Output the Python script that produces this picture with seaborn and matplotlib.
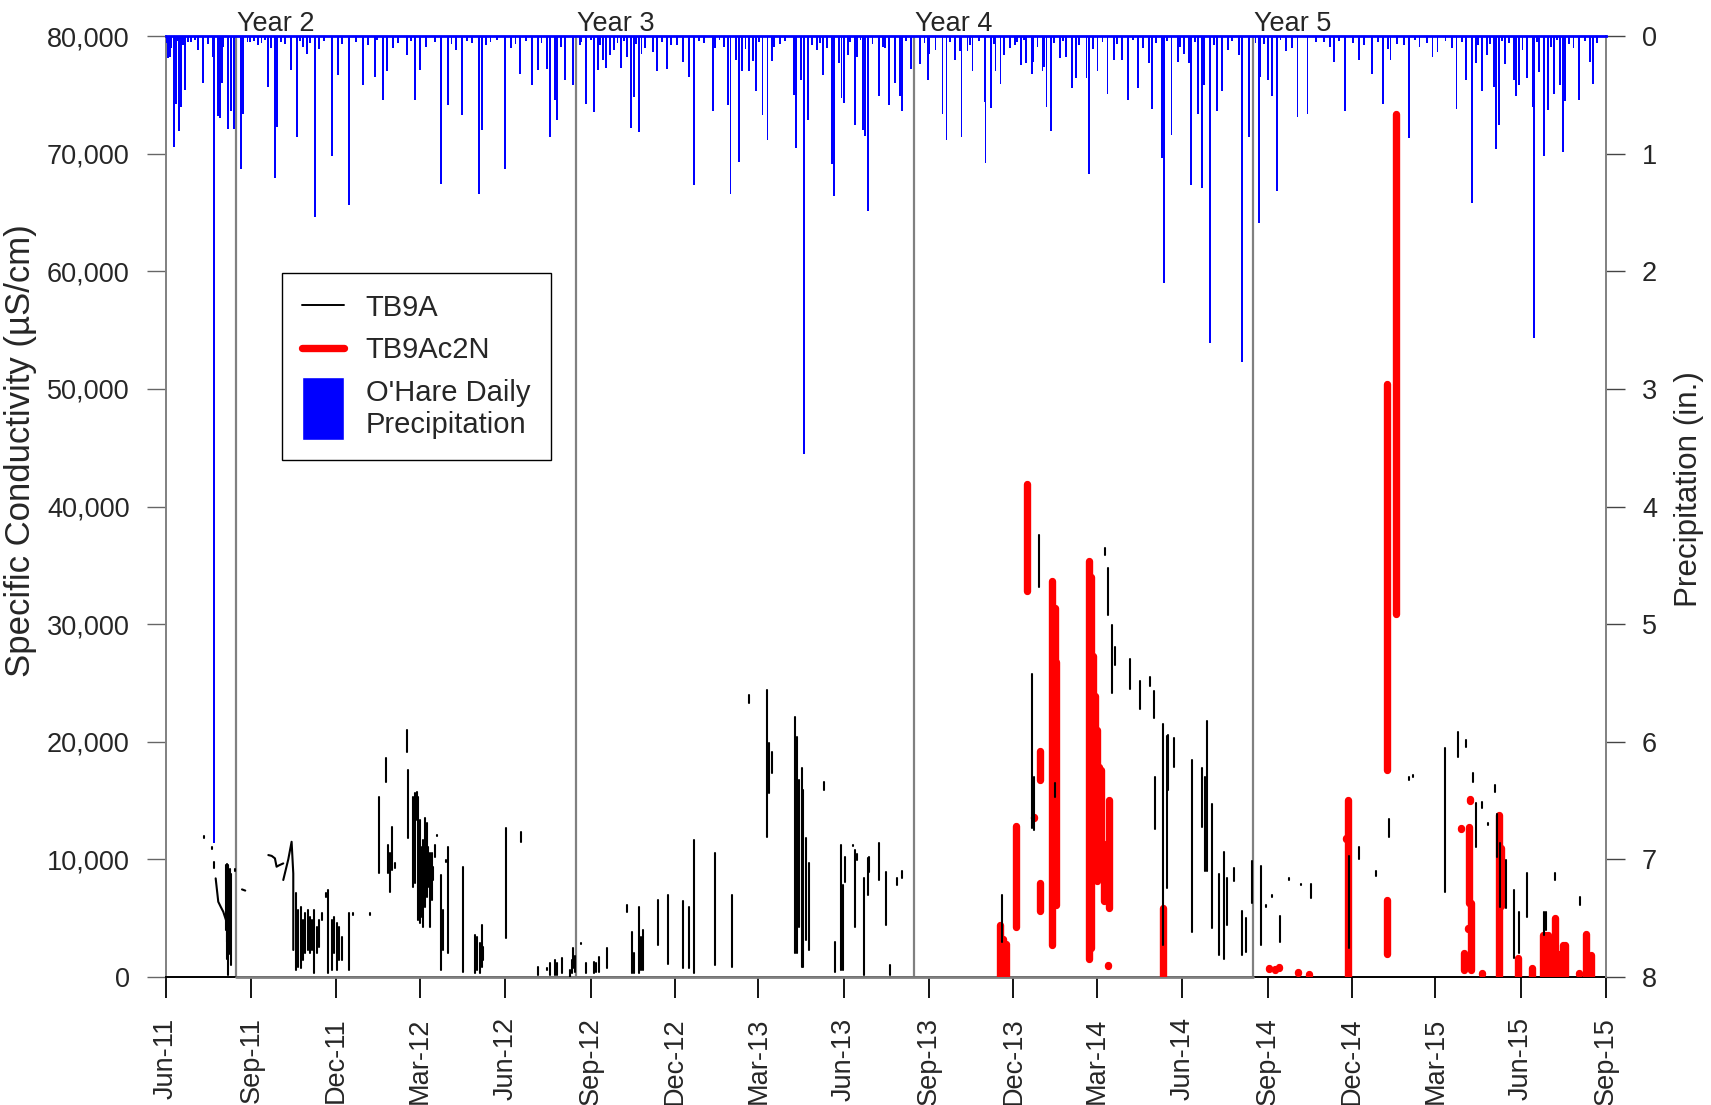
"""Specific conductivity at TB9A / TB9Ac2N with O'Hare daily precipitation."""

import matplotlib
matplotlib.use("Agg")
import matplotlib.pyplot as plt
import matplotlib.dates as mdates
import matplotlib.patches as mpatches
from matplotlib.lines import Line2D
from matplotlib.legend_handler import HandlerPatch
from matplotlib.ticker import FuncFormatter
import numpy as np
import pandas as pd
import seaborn as sns

sns.set_style("ticks")
plt.rcParams["font.family"] = ["Liberation Sans", "DejaVu Sans"]

START = pd.Timestamp("2011-06-01")   # all day offsets below count from here

# O'Hare daily precipitation (in.), days since 1 Jun 2011
precip_day = [2.5, 4.3, 8.6, 10.4, 14.4, 15.8, 20.5, 27, 40.3, 51, 52.1, 56.4, 58.2, 60,
              67.2, 69.7, 73.3, 80.9, 83.4, 90.6, 109.6, 117.5, 119.3, 134.4, 140.9, 151.7,
              160.7, 178.7, 185.8, 197, 212.8, 225.4, 233.7, 238, 259.5, 268.9, 273.9,
              296.6, 303.8, 319.6, 337.9, 340.4, 365.6, 381.8, 394.7, 400.8, 410.5, 414.1,
              419.5, 421.3, 430.3, 439.3, 446.5, 452.6, 461.5, 465.5, 470.9, 474.5, 478.8,
              490.7, 496.8, 501.4, 504.7, 510, 512.9, 524.8, 529.8, 540.6, 550.7, 557.9,
              564, 569.1, 589.8, 592.1, 606.4, 608.9, 614.7, 618, 620.8, 628.7, 632.7,
              636.2, 643.4, 648.8, 653.5, 656, 677.2, 679.8, 684.8, 687.7, 692.7, 701.7,
              708.9, 718.6, 720.7, 725.8, 728.6, 730.8, 735.8, 743, 745.6, 751.3, 753.8,
              756.7, 768.9, 775.4, 779.7, 786.5, 791.6, 793.7, 803.4, 813.1, 821.4, 823.2,
              837.5, 841.8, 850.8, 856.2, 858, 864.5, 869.9, 883.2, 883.9, 889.7, 894.7,
              900.1, 903.7, 915.6, 921.7, 927.4, 933.6, 935.3, 945.4, 947.2, 949.7, 954.3,
              964, 970.5, 976.7, 981, 992.8, 995.7, 1004.7, 1015.5, 1022.7, 1031, 1037.8,
              1047.9, 1060.1, 1063, 1073.8, 1076.3, 1084.4, 1091.6, 1098.2, 1103.6, 1105.4,
              1113.3, 1116.9, 1119.4, 1125.9, 1133.1, 1138.5, 1157.5, 1160.8, 1168, 1178.4,
              1179.8, 1188.1, 1192.4, 1197.8, 1207.9, 1220.4, 1231.2, 1249.2, 1260, 1271.8,
              1286.6, 1301, 1312.8, 1320.7, 1340.9, 1335.1, 1366, 1371.4, 1391.9, 1402,
              1408.8, 1412.8, 1418.9, 1424.3, 1432.6, 1434.8, 1437.6, 1444.1, 1454.2, 1456,
              1459.6, 1468.2, 1474, 1475.8, 1481.2, 1485.8, 1490.1, 1497, 1503.4, 1507,
              1508.8, 1523.9, 1535.8, 1539.4]
precip_in = [0.19, 0.18, 0.94, 0.58, 0.81, 0.60, 0.46, 0.05, 0.40, 0.18, 6.86, 0.68, 0.70, 0.40,
             0.79, 0.64, 0.79, 1.13, 0.66, 0.05, 0.43, 1.21, 0.77, 0.29, 0.86, 0.15,
             1.54, 1.02, 0.33, 1.44, 0.42, 0.35, 0.54, 0.30, 0.16, 0.54, 0.29,
             1.26, 0.59, 0.67, 1.34, 0.80, 1.13, 0.32, 0.42, 0.29, 0.28, 0.86,
             0.54, 0.71, 0.37, 0.42, 0.08, 0.58, 0.65, 0.29, 0.20, 0.27, 0.16,
             0.27, 0.18, 0.78, 0.52, 0.82, 0.15, 0.14, 0.30, 0.28, 0.08, 0.22,
             0.35, 1.27, 0.64, 0.10, 0.59, 1.34, 0.20, 1.07, 0.30, 0.30, 0.21,
             0.47, 0.67, 0.88, 0.21, 0.09, 0.50, 0.95, 0.37, 3.55, 0.71, 0.12,
             0.33, 1.09, 1.36, 0.23, 0.53, 0.57, 0.16, 0.76, 0.18, 0.80, 0.85,
             1.49, 0.51, 0.10, 0.59, 0.40, 0.51, 0.64, 0.28, 0.24, 0.37, 0.15,
             0.66, 0.88, 0.20, 0.13, 0.86, 0.13, 0.30, 0.56, 1.08, 0.61, 0.30,
             0.41, 0.16, 0.08, 0.25, 0.23, 0.32, 0.22, 0.30, 0.26, 0.60, 0.81,
             0.19, 0.18, 0.44, 0.36, 0.36, 1.17, 0.30, 0.49, 0.20, 0.20, 0.54,
             0.44, 0.23, 0.62, 1.04, 2.10, 0.84, 0.22, 0.15, 0.23, 1.27,
             0.66, 1.29, 0.42, 2.61, 0.64, 0.47, 0.16, 2.77, 0.86, 1.59,
             0.35, 0.37, 0.51, 1.32, 0.13, 0.69, 0.66, 0.05, 0.22, 0.64,
             0.20, 0.32, 0.58, 0.20, 0.87, 0.08, 0.18, 0.14, 0.62, 0.37,
             1.42, 0.23, 0.47, 0.16, 0.43, 0.96, 0.76, 0.24, 0.37, 0.51,
             0.42, 0.36, 0.60, 2.57, 0.31, 1.02, 0.63, 0.49, 0.42, 0.99,
             0.55, 0.54, 0.22, 0.41]

# light rain days (the fringe along the top)
drizzle_day = [1, 6, 12, 18, 24, 31, 35, 45, 62, 88, 95, 99, 103, 107, 113, 124, 128, 145,
               148, 155, 165, 170, 190, 205, 218, 228, 245, 250, 264, 280, 290, 308, 313,
               325, 330, 345, 350, 357, 372, 377, 388, 405, 426, 448, 458, 468, 483, 487,
               494, 507, 517, 535, 545, 575, 580, 597, 602, 625, 640, 662, 668, 697, 705,
               713, 738, 749, 762, 773, 798, 818, 830, 846, 867, 877, 893, 910, 918, 925,
               940, 958, 967, 985, 1000, 1010, 1026, 1043, 1054, 1068, 1080, 1094, 1110,
               1130, 1145, 1150, 1175, 1184, 1202, 1214, 1240, 1255, 1265, 1280, 1292,
               1307, 1318, 1328, 1347, 1352, 1360, 1380, 1387, 1398, 1415, 1428, 1441,
               1448, 1463, 1479, 1494, 1500, 1513, 1518, 1530, 1543]
drizzle_in = [0.06, 0.10, 0.04, 0.08, 0.05, 0.03, 0.12, 0.07, 0.09, 0.05, 0.04, 0.08, 0.06,
              0.03, 0.10, 0.05, 0.07, 0.04, 0.09, 0.06, 0.11, 0.04, 0.07, 0.05, 0.08, 0.03,
              0.10, 0.06, 0.04, 0.09, 0.05, 0.07, 0.12, 0.04, 0.06, 0.08, 0.05, 0.03, 0.10,
              0.07, 0.04, 0.06, 0.09, 0.05, 0.03, 0.08, 0.12, 0.06, 0.04, 0.07, 0.10, 0.05,
              0.08, 0.04, 0.06, 0.03, 0.09, 0.11, 0.05, 0.07, 0.04, 0.08, 0.06, 0.10, 0.05,
              0.03, 0.07, 0.09, 0.04, 0.06, 0.12, 0.05, 0.08, 0.04, 0.07, 0.10, 0.05, 0.03,
              0.09, 0.06, 0.04, 0.08, 0.11, 0.05, 0.07, 0.03, 0.10, 0.06, 0.04, 0.09, 0.05,
              0.08, 0.12, 0.04, 0.06, 0.07, 0.03, 0.10, 0.05, 0.09, 0.04, 0.06, 0.08, 0.05,
              0.11, 0.07, 0.03, 0.09, 0.06, 0.04, 0.10, 0.05, 0.08, 0.07, 0.04, 0.06, 0.12,
              0.05, 0.09, 0.03, 0.07, 0.10, 0.04, 0.06]

# TB9A daily range (uS/cm): day, daily high, daily low
tb9a_day = [41, 50, 52.1, 64.7, 65.4, 66, 66.7, 67.3, 68.5, 69.2, 69.8, 74.4,
            140.2, 142.7, 145.2, 147.4, 149.9, 152.8, 155.3, 157.8, 160, 162.5, 165,
            167.9, 172.5, 175.1, 178.6, 181.2, 184, 186.6, 189.4, 197.3, 202, 220,
            230.1, 237.2, 239.1, 241.6, 244.1, 247, 259.5, 260.6,
            266.7, 268.5, 270.3, 272.1, 273.9, 275.7, 277.5, 279.3, 281.1, 282.9, 284.7,
            286.5, 288.3, 290.1, 291.9, 296.6, 298.4, 301.6, 303.8, 319.9,
            333.3, 335.1, 338.7, 340.5, 342.3, 366.3, 382.5,
            401.5, 410.5, 414.1, 419.5, 422, 426.7, 435.6, 437.5, 439.3, 441.1,
            447.2, 452.9, 461.5, 463.7, 466.9, 475.2, 497.5, 502.2, 505.1, 510.1, 512.3,
            514.1, 530.6, 541.4, 557.9, 564.1, 569.5, 592.1, 610.1, 629.1, 648.5,
            650.6, 653.1, 678.3, 680.1, 682.6, 685.5, 687.3, 689.8, 693.8, 710, 721.5,
            727.6, 730.5, 732.7, 741.3, 743.5, 745.6, 752.8, 756.8, 758.6, 769.4, 776.5,
            780.9, 788.1, 793.8,
            901.3, 934, 936, 941.2, 958.9, 1013.2, 1015.7, 1020.1, 1023.7, 1039.3,
            1050.1, 1061.8, 1065.4, 1066.5, 1075.6, 1079.2, 1081, 1087.6, 1106.4,
            1117.3, 1120.9, 1122.7, 1128.2, 1135.4, 1140.9, 1144.5, 1151.8, 1160.8,
            1164.5, 1171, 1180.8, 1186.3, 1192.8, 1201.5, 1211.7, 1224.4, 1235.3,
            1276.4, 1286.9, 1305.4, 1319.5, 1340.5, 1345.3, 1379.3, 1393.7, 1401.9,
            1409.1, 1412.7, 1419.6, 1425.3, 1433.2, 1435, 1438.6, 1444.7, 1454, 1459.1,
            1468.1, 1486, 1488.8, 1497.9, 1524.9]
tb9a_hi = [12000, 11050, 9800, 9500, 9600, 9300, 9500, 9400, 9000, 9200, 8800, 9150,
           7110, 5700, 5980, 4850, 5420, 5700, 5130, 4850, 5700, 4280, 4850,
           5420, 7110, 7400, 4850, 5130, 4570, 4280, 3430, 5420, 5450, 5450,
           15330, 18590, 11220, 10510, 12780, 9700, 21000, 17600,
           15330, 15620, 15760, 15330, 13350, 11080, 11650, 13490, 13070, 11080, 10510,
           10510, 9380, 11220, 12100, 8680, 5700, 9950, 11080, 9380,
           3570, 3430, 2870, 4420, 2580, 12640, 12350,
           880, 780, 1160, 1450, 1160, 1590, 600, 1450, 2500, 1800,
           2900, 1170, 1300, 1170, 1730, 2440, 6120, 3860, 2010, 5980, 3430,
           4000, 6550, 6970, 6460, 5980, 11650, 10510, 6970, 23980, 24400,
           19870, 19160, 22140, 20440, 16750, 17740, 15900, 11790, 9660, 16610, 3010,
           11220, 7820, 10230, 11220, 10790, 10500, 8390, 10090, 10230, 11360, 8960,
           1020, 8390, 9000,
           7000, 25800, 17000, 37600, 16460, 36440, 34770, 29920, 28070, 27070,
           25210, 25490, 24330, 17030, 21470, 20470, 20610, 20330, 18460,
           17750, 17030, 21760, 14740, 8730, 10590, 8450, 9300, 5580,
           5010, 9870, 9440, 6100, 6950, 5150, 8380, 7950, 7880,
           10310, 11030, 9010, 13450, 17030, 17150, 19440, 20860, 20160,
           17320, 14770, 14900, 13120, 16330, 13900, 11370, 9950, 7400, 5550,
           8810, 5550, 5550, 8810, 6830]
tb9a_lo = [11850, 10900, 9240, 4000, 3000, 1500, 2500, 170, 3500, 2000, 1000, 9000,
           600, 880, 740, 1450, 2010, 2300, 2010, 2300, 310, 2010, 2580,
           4850, 6800, 310, 600, 2010, 600, 1450, 1450, 600, 5300, 5300,
           8810, 16610, 8810, 7250, 9100, 9300, 19160, 11790,
           7680, 7960, 13350, 4850, 4570, 5130, 4280, 5980, 6830, 7680, 4280,
           6550, 8250, 10230, 11950, 600, 2300, 9800, 2010, 460,
           310, 600, 310, 880, 1450, 3290, 11500,
           170, 600, 170, 170, 170, 310, 0, 310, 800, 400,
           2800, 310, 310, 450, 450, 740, 5550, 310, 310, 310, 600,
           600, 2720, 1080, 740, 740, 310, 1020, 880, 23270, 11930,
           15620, 17320, 2010, 2010, 4280, 880, 880, 3150, 2300, 15900, 450,
           600, 600, 8100, 11100, 4280, 9950, 170, 6970, 8960, 8250, 4420,
           170, 7820, 8390,
           3000, 12700, 12500, 33200, 15300, 35920, 30770, 24190, 26530, 24490,
           22790, 24770, 22040, 12590, 2720, 7580, 15890, 17890, 3860,
           12740, 9010, 9010, 4150, 1870, 1570, 4440, 8160, 1870,
           2160, 6310, 2720, 5950, 6800, 3010, 8220, 7820, 6730,
           2440, 10020, 8590, 11870, 16750, 17000, 7250, 18730, 19590,
           16610, 11090, 14340, 12950, 15760, 10230, 5980, 5840, 1590, 2010,
           5130, 3570, 4000, 8250, 6120]

# TB9A continuous stretches (curves rather than single-day ranges)
tb9a_curve_day = [[53.6, 55.4, 56.4, 59, 61.8, 64.7],
                  [82, 85.5],
                  [110.4, 114, 117.5, 119.3, 122, 126.5],
                  [126.5, 131.9, 135.5, 137.3, 137.3]]
tb9a_curve_val = [[8390, 7110, 6400, 5980, 5550, 4850],
                  [7450, 7350],
                  [10370, 10300, 10090, 9380, 9500, 9660],
                  [8250, 10000, 11500, 8800, 2300]]

# TB9Ac2N daily range (uS/cm)
c2n_day = [899.5, 903, 906.5, 916.9, 928.5, 935.8, 942.3, 943, 955.9, 958.4, 960.2,
           995.7, 997.5, 999.4, 1001.9, 1004, 1006.6, 1008.4, 1012, 1016.7, 1015.6,
           1075.6, 1189.7, 1195.6, 1200.3, 1221.4, 1233.1, 1272.8, 1275.3, 1317.1,
           1317.1, 1326.2, 1396.2, 1400, 1404.5, 1405, 1406.9, 1408, 1419.8, 1437.8,
           1439.3, 1458.6, 1473, 1484.8, 1487.5, 1490.9, 1495.9, 1497.9, 1502.2,
           1506.5, 1509.3, 1524.2, 1531.4, 1536.4]
c2n_hi = [4400, 3200, 2800, 12880, 41930, 13600, 19180, 8010, 33630, 31340, 26760,
          35350, 34000, 27330, 23900, 21030, 17880, 17600, 11300, 15020, 1050,
          5870, 800, 700, 850, 450, 300, 11800, 15020, 50400,
          6580, 73400, 12700, 2010, 4150, 12780, 15100, 6260, 380, 13780,
          11000, 1590, 750, 3570, 3570, 3570, 2000, 5000, 2000,
          2700, 2700, 350, 3690, 1860]
c2n_lo = [0, 0, 100, 4290, 32780, 13500, 16740, 5580, 2720, 21030, 6150,
          1570, 2500, 10440, 11300, 8150, 8440, 10440, 6440, 5870, 950,
          0, 700, 600, 750, 350, 200, 11700, 0, 17630,
          1990, 30900, 12600, 600, 4050, 6260, 15000, 600, 280, 0,
          6000, 0, 0, 0, 0, 0, 0, 0, 0,
          0, 0, 250, 0, 0]

year_start = ["2011-08-16", "2012-08-16", "2013-08-16", "2014-08-16"]
year_label = ["Year 2", "Year 3", "Year 4", "Year 5"]


def to_date(days):
    return START + pd.to_timedelta(np.asarray(days, dtype=float), unit="D")


def ranges_frame(days, his, los, first_run=0):
    """Two rows per day (high, low) so each day becomes one vertical stroke."""
    run = np.repeat(np.arange(first_run, first_run + len(days)), 2)
    day = np.repeat(days, 2)
    val = np.column_stack([his, los]).ravel()
    return pd.DataFrame({"run": run, "date": to_date(day), "value": val})


tb9a = ranges_frame(tb9a_day, tb9a_hi, tb9a_lo)
curves = []
for k, (d, v) in enumerate(zip(tb9a_curve_day, tb9a_curve_val)):
    curves.append(pd.DataFrame({"run": 1000 + k, "date": to_date(d), "value": v}))
tb9a = pd.concat([tb9a] + curves, ignore_index=True)
c2n = ranges_frame(c2n_day, c2n_hi, c2n_lo)

fig = plt.figure(figsize=(17.11, 11.05), dpi=100)
ax = fig.add_axes([0.0970, 0.1158, 0.8416, 0.8516])
ax2 = ax.twinx()

# year boundaries
for d in year_start:
    ax.axvline(pd.Timestamp(d), color="#808080", lw=1.6, zorder=1)
for d, lab in zip(year_start, year_label):
    ax.text(pd.Timestamp(d) + pd.Timedelta(days=1), 0.999, lab, transform=ax.get_xaxis_transform(),
            ha="left", va="bottom", fontsize=19.5)
ax.plot([pd.Timestamp(year_start[0]), pd.Timestamp(year_start[-1])], [0, 0],
        color="#808080", lw=2, zorder=3, clip_on=False)

sns.lineplot(data=c2n, x="date", y="value", units="run", estimator=None, sort=False,
             color="red", lw=5.3, solid_capstyle="round", ax=ax, legend=False, zorder=4)
sns.lineplot(data=tb9a, x="date", y="value", units="run", estimator=None, sort=False,
             color="black", lw=1.5, ax=ax, legend=False, zorder=5)

ax2.bar(to_date(drizzle_day), drizzle_in, width=2.0, color="blue", lw=0)
ax2.bar(to_date(precip_day), precip_in, width=2.0, color="blue", lw=0)

ax.set_xlim(pd.Timestamp("2011-06-01"), pd.Timestamp("2015-09-01"))
ax.set_ylim(0, 80000)
ax2.set_ylim(8, 0)
ax.set_yticks(range(0, 80001, 10000))
ax2.set_yticks(range(0, 9))
ax.yaxis.set_major_formatter(FuncFormatter(lambda v, p: f"{v:,.0f}"))
ax.xaxis.set_major_locator(mdates.MonthLocator(bymonth=[3, 6, 9, 12]))
ax.xaxis.set_major_formatter(mdates.DateFormatter("%b-%y"))

ax.set_xlabel("")
ax.set_ylabel("Specific Conductivity (µS/cm)", fontsize=25)
ax.yaxis.set_label_coords(-0.0896, 0.559)
ax2.set_ylabel("Precipitation (in.)", fontsize=22.6, rotation=90)
ax2.yaxis.set_label_coords(1.047, 0.519)

ax.tick_params(axis="y", direction="out", length=14, width=1, color="#666666",
               pad=12, labelsize=19.5)
ax2.tick_params(axis="y", direction="out", length=14, width=1, color="#444444",
                pad=12, labelsize=19.5)
ax.tick_params(axis="x", direction="out", length=15, width=1.3, color="black",
               pad=14, labelsize=19.5, labelrotation=90)

ax.spines["left"].set_color("#808080")
ax.spines["bottom"].set_color("black")
ax.spines["top"].set_visible(False)
ax.spines["right"].set_visible(False)
for s in ("left", "bottom"):
    ax.spines[s].set_linewidth(1.4)
ax2.spines["left"].set_visible(False)
ax2.spines["bottom"].set_visible(False)
ax2.spines["right"].set_color("#808080")
ax2.spines["right"].set_linewidth(1.4)
ax2.spines["top"].set_color("blue")
ax2.spines["top"].set_linewidth(2)


def tall_patch(legend, orig_handle, xdescent, ydescent, width, height, fontsize):
    return mpatches.Rectangle((-xdescent, -ydescent - 1.0 * height), width, 3.1 * height)


handles = [Line2D([], [], color="black", lw=1.4),
           Line2D([], [], color="red", lw=5.3, solid_capstyle="round"),
           mpatches.Patch(facecolor="blue")]
labels = ["TB9A", "TB9Ac2N", "O'Hare Daily\nPrecipitation"]
leg = ax2.legend(handles, labels, loc="upper left", bbox_to_anchor=(0.0806, 0.748),
                 borderaxespad=0, fontsize=21, frameon=True, fancybox=False,
                 edgecolor="black", framealpha=1, handlelength=1.42, handletextpad=0.75,
                 borderpad=0.7, labelspacing=0.5,
                 handler_map={mpatches.Patch: HandlerPatch(patch_func=tall_patch)})
leg.get_frame().set_linewidth(1.0)

fig.savefig("out.png", dpi=100)
